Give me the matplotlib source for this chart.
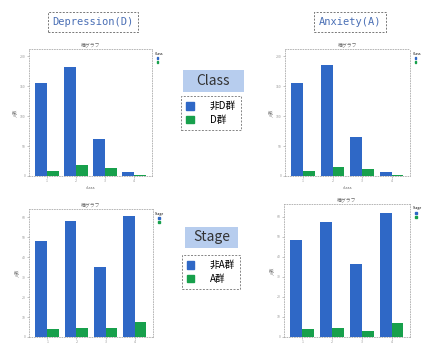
import numpy as np
import matplotlib
matplotlib.use("Agg")
import matplotlib.pyplot as plt
from matplotlib.patches import Patch, Rectangle

plt.rcParams['font.family'] = ['Noto Sans CJK JP', 'DejaVu Sans']

groups = ["1", "2", "3", "4"]
dep_class_non = [155, 182, 62, 7]
dep_class_yes = [8, 18, 13, 2]
anx_class_non = [155, 185, 65, 7]
anx_class_yes = [8, 15, 12, 2]
dep_stage_non = [48, 58, 35, 60.5]
dep_stage_yes = [4, 4.5, 4.5, 7.5]
anx_stage_non = [48.5, 57.5, 36.5, 62]
anx_stage_yes = [4, 4.5, 3, 7]

col_titles = ["Depression(D)", "Anxiety(A)"]
row_titles = ["Class", "Stage"]
legend_d = ["非D群", "D群"]
legend_a = ["非A群", "A群"]
sub_title = "棒グラフ"
ylab = "人数"

BLUE = "#2f68c6"
GREEN = "#17a04c"

W, H = 427, 343
fig = plt.figure(figsize=(W / 100, H / 100), dpi=100)
fig.patch.set_facecolor("white")

positions = {
    "tl": [0.068, 0.487, 0.288, 0.370],
    "tr": [0.667, 0.487, 0.293, 0.370],
    "bl": [0.068, 0.0175, 0.290, 0.373],
    "br": [0.665, 0.0175, 0.295, 0.388],
}

panels = [
    ("tl", dep_class_non, dep_class_yes, 212, 50, "class", "Class"),
    ("tr", anx_class_non, anx_class_yes, 212, 50, "class", "Class"),
    ("bl", dep_stage_non, dep_stage_yes, 64, 10, None, "Stage"),
    ("br", anx_stage_non, anx_stage_yes, 66.5, 10, None, "Stage"),
]

x = np.arange(len(groups))
for key, non, yes, ytop, ystep, xl, lt in panels:
    ax = fig.add_axes(positions[key])
    ax.bar(x - 0.2, non, width=0.4, color=BLUE)
    ax.bar(x + 0.2, yes, width=0.4, color=GREEN)
    ax.set_xlim(-0.62, 3.62)
    ax.set_ylim(0, ytop)
    ax.set_xticks(x)
    ax.set_xticklabels(groups)
    ax.set_yticks(np.arange(0, ytop, ystep))
    ax.tick_params(labelsize=2.5, length=1.5, width=0.4, colors="#999999", pad=1)
    for s in ax.spines.values():
        s.set_linestyle((0, (1, 2)))
        s.set_color("#aaaaaa")
        s.set_linewidth(0.6)
    ax.set_title(sub_title, fontsize=3.5, color="#666666", pad=2)
    ax.set_ylabel(ylab, fontsize=3, color="#666666", labelpad=2)
    if xl:
        ax.set_xlabel(xl, fontsize=3, color="#666666", labelpad=2)
    ax.legend(handles=[Patch(color=BLUE), Patch(color=GREEN)], labels=["", ""],
              loc="upper left", bbox_to_anchor=(1.0, 1.0), fontsize=2,
              title=lt, title_fontsize=2.5, frameon=False,
              handlelength=0.6, handleheight=0.6, labelspacing=0.1)

# column titles in dashed boxes
for xc, t in [(93 / W, col_titles[0]), (350 / W, col_titles[1])]:
    fig.text(xc, 1 - 22 / H, t, ha="center", va="center", fontsize=7.5,
             color="#4a6fb5", family=["DejaVu Sans Mono"],
             bbox=dict(boxstyle="square,pad=0.45", fc="white", ec="#777777",
                       ls=(0, (2, 1.5)), lw=0.7))

# row labels with light blue boxes
for (x0, y0, x1, y1), t in [((183, 70, 244, 92), row_titles[0]),
                            ((185, 227, 238, 248), row_titles[1])]:
    fig.patches.append(Rectangle((x0 / W, 1 - y1 / H), (x1 - x0) / W, (y1 - y0) / H,
                                 transform=fig.transFigure, fc="#b7cdee", ec="none"))
    fig.text((x0 + x1) / 2 / W, 1 - (y0 + y1) / 2 / H, t, ha="center", va="center",
             fontsize=10, color="#333333")

# legends
for yc, labs in [(1 - 113 / H, legend_d), (1 - 272 / H, legend_a)]:
    fig.legend(handles=[Patch(color=BLUE), Patch(color=GREEN)], labels=labs,
               loc="center", bbox_to_anchor=(211 / W, yc), fontsize=7,
               frameon=True, fancybox=False, edgecolor="#666666",
               handlelength=0.8, handleheight=0.8, labelspacing=0.35,
               borderpad=0.5, handletextpad=1.6)
for lg in fig.legends:
    lg.get_frame().set_linestyle((0, (2, 1.5)))
    lg.get_frame().set_linewidth(0.7)

fig.savefig("out.png", dpi=100)
